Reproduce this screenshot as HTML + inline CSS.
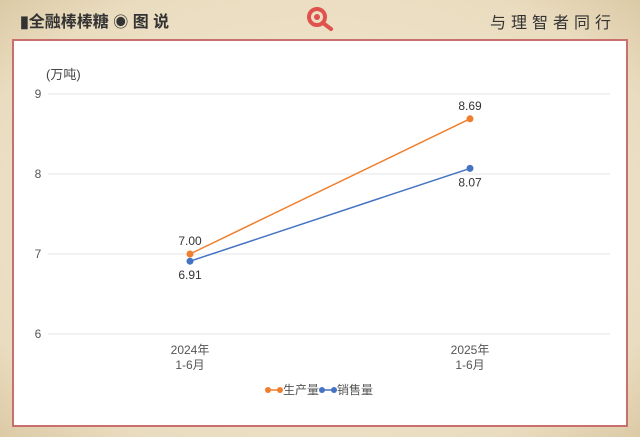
<!DOCTYPE html>
<html><head><meta charset="utf-8"><style>
body{margin:0;width:640px;height:437px;overflow:hidden;background:#efe4cc;font-family:"Liberation Sans","Noto Sans CJK SC",sans-serif;}
#bg{position:absolute;left:0;top:0;width:640px;height:437px;background:radial-gradient(ellipse at 50% 50%,#f3ead6 0%,#eadcbf 80%,#dccaa6 100%);}
#box{position:absolute;left:12px;top:39px;width:612px;height:384px;background:#fff;border:2px solid #c9706c;}
.t{position:absolute;font-size:17px;color:#333;}
</style></head><body>
<div id="bg"></div>
<div class="t" style="left:20px;top:8px;font-weight:bold;font-size:16px;">▮全融棒棒糖 <span style="font-size:15px">◉</span> 图 说</div>
<svg style="position:absolute;left:304px;top:6px" width="34" height="26">
<circle cx="13" cy="11" r="8" fill="none" stroke="#e0524d" stroke-width="4"/>
<circle cx="13" cy="11" r="3" fill="#e0524d"/>
<line x1="19" y1="17" x2="27" y2="23" stroke="#e0524d" stroke-width="4" stroke-linecap="round"/>
</svg>
<div class="t" style="left:490px;top:9px;letter-spacing:5px;font-size:16px;">与理智者同行</div>
<div id="box"></div>
<svg id="chart" width="640" height="437" style="position:absolute;left:0;top:0"></svg>
<script>
const categories=["2024年\n1-6月","2025年\n1-6月"];
const production=[7.00,8.69];
const sales=[6.91,8.07];
const yTicks=[6,7,8,9];
const seriesNames=["生产量","销售量"];
const colors=["#ef7f2c","#4472c4"];
const svg=document.getElementById('chart');
const NS="http://www.w3.org/2000/svg";
function y(v){return 334-(v-6)*80;}
function x(i){return 190+i*280;}
function mk(tag,attrs,txt){const e=document.createElementNS(NS,tag);for(const k in attrs)e.setAttribute(k,attrs[k]);if(txt!==undefined)e.textContent=txt;svg.appendChild(e);return e;}
let e=mk('text',{x:46,y:79,'font-size':13,fill:'#444','font-family':'Liberation Sans, Noto Sans CJK SC, sans-serif'},'(万吨)');

yTicks.forEach(t=>{
 let l=mk('line',{x1:48,x2:610,y1:y(t),y2:y(t),stroke:'#e6e6e6','stroke-width':1});
 
 let tx=mk('text',{x:38,y:y(t)+4,'font-size':12,fill:'#555','text-anchor':'middle'},String(t));
 
});
categories.forEach((c,i)=>{
 c.split('\n').forEach((s,j)=>{
  let tx=mk('text',{x:x(i),y:354+j*15,'font-size':12,fill:'#555','text-anchor':'middle','font-family':'Liberation Sans, Noto Sans CJK SC, sans-serif'},s);
  
 });
});
[production,sales].forEach((d,si)=>{
 let p=mk('polyline',{points:d.map((v,i)=>x(i)+','+y(v)).join(' '),fill:'none',stroke:colors[si],'stroke-width':1.5});
 
 d.forEach((v,i)=>{
  let c=mk('circle',{cx:x(i),cy:y(v),r:3.5,fill:colors[si]});
  
  let above = si===0;
  let tx=mk('text',{x:x(i),y:above?y(v)-9:y(v)+18,'font-size':12,fill:'#333','text-anchor':'middle'},v.toFixed(2));
  
 });
});
seriesNames.forEach((n,i)=>{
 const lx=268+i*54;
 let l=mk('line',{x1:lx,x2:lx+12,y1:390,y2:390,stroke:colors[i],'stroke-width':1.5});
 
 [lx,lx+12].forEach(cx=>{let c=mk('circle',{cx:cx,cy:390,r:3,fill:colors[i]});});
 let tx=mk('text',{x:lx+15,y:394,'font-size':12,fill:'#555','font-family':'Liberation Sans, Noto Sans CJK SC, sans-serif'},n);
 
});
</script>
</body></html>
